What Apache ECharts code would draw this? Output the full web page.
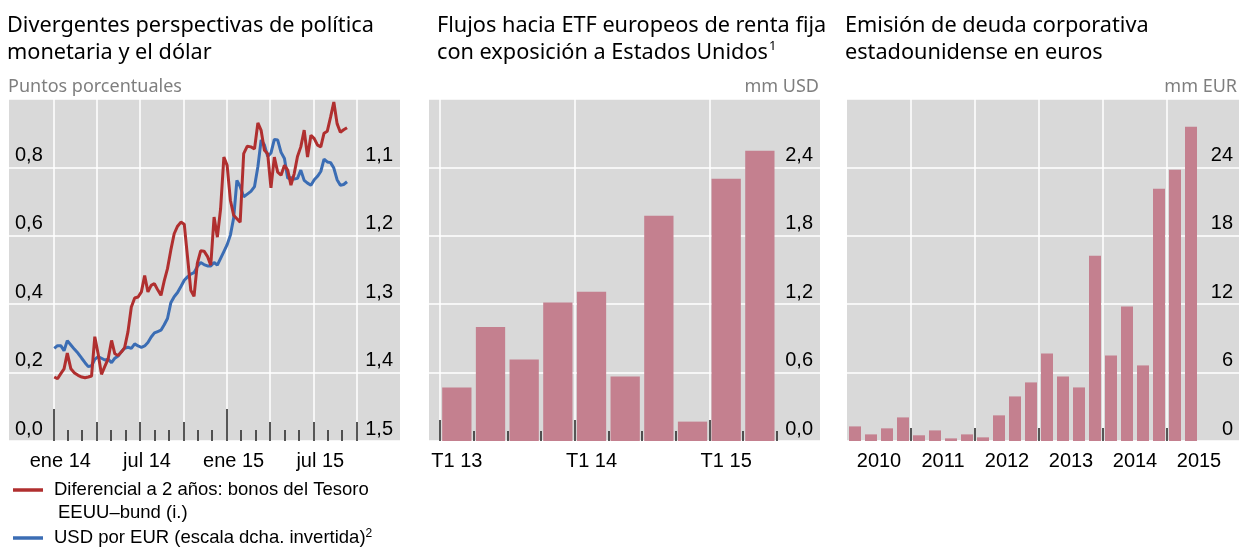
<!DOCTYPE html>
<html><head><meta charset="utf-8">
<script src="https://cdn.jsdelivr.net/npm/echarts@6/dist/echarts.min.js"></script>
<style>html,body{margin:0;padding:0;background:#fff}#c{width:1239px;height:547px}</style>
</head><body><div id="c"></div>
<script>
// ---------- DATA ----------
// Left panel: weekly observations (first Friday of 2014, then weekly)
const weekStart = '2014-01-03';
const spread2y = [0.187,0.182,0.197,0.211,0.257,0.211,0.199,0.192,0.187,0.185,0.187,0.19,0.305,0.255,0.195,0.218,0.241,0.294,0.255,0.25,0.26,0.273,0.319,0.392,0.418,0.421,0.436,0.484,0.436,0.455,0.46,0.442,0.426,0.468,0.504,0.558,0.606,0.628,0.64,0.634,0.538,0.441,0.423,0.519,0.556,0.555,0.54,0.514,0.655,0.596,0.679,0.83,0.806,0.704,0.66,0.65,0.64,0.84,0.862,0.86,0.854,0.93,0.908,0.85,0.84,0.74,0.83,0.786,0.777,0.806,0.792,0.748,0.782,0.832,0.86,0.909,0.83,0.894,0.884,0.865,0.86,0.9,0.906,0.947,0.991,0.928,0.903,0.91,0.916];
const usdPerEur = [1.3645,1.3606,1.3606,1.368,1.3533,1.3596,1.366,1.3718,1.379,1.3855,1.3913,1.39,1.3806,1.3767,1.379,1.3816,1.3806,1.3855,1.379,1.3757,1.3694,1.3645,1.363,1.3645,1.358,1.361,1.363,1.361,1.356,1.348,1.342,1.34,1.338,1.33,1.321,1.298,1.289,1.283,1.274,1.265,1.26,1.256,1.254,1.245,1.239,1.242,1.244,1.244,1.239,1.243,1.233,1.223,1.213,1.199,1.174,1.119,1.128,1.143,1.139,1.135,1.128,1.099,1.06,1.067,1.084,1.079,1.059,1.06,1.078,1.087,1.116,1.115,1.117,1.116,1.104,1.119,1.123,1.126,1.118,1.113,1.106,1.088,1.092,1.093,1.101,1.118,1.126,1.125,1.121];
const leftXLabels = {0: 'ene 14', 6: 'jul 14', 12: 'ene 15', 18: 'jul 15'};

// Middle panel: quarterly flows (mm USD)
const etfQuarters = ['T1 13','T2 13','T3 13','T4 13','T1 14','T2 14','T3 14','T4 14','T1 15','T2 15'];
const etfFlows = [0.47, 1.0, 0.715, 1.215, 1.31, 0.565, 1.975, 0.17, 2.30, 2.545];

// Right panel: quarterly issuance (mm EUR)
const issueQuarters = ['2010','2010 T2','2010 T3','2010 T4','2011','2011 T2','2011 T3','2011 T4','2012','2012 T2','2012 T3','2012 T4','2013','2013 T2','2013 T3','2013 T4','2014','2014 T2','2014 T3','2014 T4','2015','2015 T2'];
const issuance = [1.28, 0.58, 1.11, 2.07, 0.5, 0.93, 0.23, 0.58, 0.32, 2.25, 3.91, 5.14, 7.68, 5.66, 4.7, 16.26, 7.5, 11.8, 6.63, 22.13, 23.8, 27.56];

// ---------- helpers ----------
function weekDates(start, n) {
  const out = []; const d0 = new Date(start + 'T00:00:00Z');
  for (let i = 0; i < n; i++) { out.push(new Date(d0.getTime() + i * 7 * 86400000)); }
  return out;
}
function monthPos(d) { // months since Jan 2014
  const y = d.getUTCFullYear(), m = d.getUTCMonth(), day = d.getUTCDate();
  const dim = new Date(Date.UTC(y, m + 1, 0)).getUTCDate();
  return (y - 2014) * 12 + m + (day - 1) / dim;
}
const dates = weekDates(weekStart, spread2y.length);
const redData = dates.map((d, i) => [monthPos(d), spread2y[i]]);
const blueData = dates.map((d, i) => [monthPos(d), usdPerEur[i]]);

const BG = '#d9d9d9', WHITE = '#ffffff', TICK = '#222';
const LBL = {fontFamily: 'Liberation Sans', fontSize: 20, color: '#000'};
const comma1 = v => v.toFixed(1).replace('.', ',');
const hide = {show: false};
const hiddenX = (g, min, max) => ({type: 'value', gridIndex: g, min: min, max: max, show: false, position: 'bottom'});
const hiddenY = (g, min, max, inv) => ({type: 'value', gridIndex: g, min: min, max: max, inverse: !!inv, show: false});

const TOP = 99, H = 342;
const chart = echarts.init(document.getElementById('c'), null, {renderer: 'canvas'});
const titleStyle = {fontFamily: 'Noto Sans', fontSize: 21.7, fontWeight: 'normal', color: '#000', lineHeight: 27.5};
const subStyle = {fontFamily: 'Noto Sans', fontSize: 18, fontWeight: 'normal', color: '#7f7f7f', lineHeight: 18};

chart.setOption({
  animation: false,
  title: [
    {text: 'Divergentes perspectivas de política\nmonetaria y el dólar', left: 7, top: 12, padding: 0, textStyle: titleStyle},
    {text: '{t|Flujos hacia ETF europeos de renta fija}\n{t|con exposición a Estados Unidos}{s|1}', left: 437, top: 12, padding: 0,
      textStyle: Object.assign({}, titleStyle, {rich: {t: titleStyle, s: {fontFamily: 'Noto Sans', fontSize: 13, verticalAlign: 'top', lineHeight: 27.5, padding: [0, 0, 12, 1]}}})},
    {text: 'Emisión de deuda corporativa\nestadounidense en euros', left: 845, top: 12, padding: 0, textStyle: titleStyle},
    {text: 'Puntos porcentuales', left: 8, top: 78, padding: 0, textStyle: subStyle},
    {text: 'mm USD', right: 1239 - 819, top: 78, padding: 0, textStyle: subStyle},
    {text: 'mm EUR', right: 2, top: 78, padding: 0, textStyle: subStyle}
  ],
  grid: [
    {left: 9, top: TOP, width: 391, height: H, show: true, backgroundColor: BG, borderWidth: 0},          // 0 left bg
    {left: 53.33, top: TOP, width: 303.33, height: H, show: false},                                     // 1 lines
    {left: 53.33, top: TOP, width: 173.33, height: H, show: false},                                     // 2 year ticks
    {left: 429, top: TOP, width: 391, height: H, show: true, backgroundColor: BG, borderWidth: 0},       // 3 mid bg
    {left: 440, top: TOP, width: 336.7, height: H, show: false},                                        // 4 mid bars
    {left: 440, top: TOP, width: 269.36, height: H, show: false},                                       // 5 mid year ticks
    {left: 847, top: TOP, width: 392, height: H, show: true, backgroundColor: BG, borderWidth: 0},       // 6 right bg
    {left: 847, top: TOP, width: 352, height: H, show: false},                                          // 7 right bars
    {left: 911, top: TOP, width: 256, height: H, show: false}                                           // 8 right year ticks
  ],
  xAxis: [
    hiddenX(0, 0, 1),
    {type: 'value', gridIndex: 1, position: 'bottom', min: 0, max: 21, interval: 1, axisLine: hide, splitLine: hide, axisLabel: hide,
      axisTick: {show: true, inside: true, length: 11, lineStyle: {color: TICK, width: 1.5}}},
    {type: 'value', gridIndex: 1, position: 'bottom', min: 0, max: 21, interval: 3, axisLine: hide,
      splitLine: {show: true, lineStyle: {color: WHITE, width: 1.5}},
      axisTick: {show: true, inside: true, length: 19, lineStyle: {color: TICK, width: 1.5}},
      axisLabel: Object.assign({}, LBL, {margin: 10, padding: [0, 0, 0, 14], showMinLabel: true, showMaxLabel: true,
        formatter: v => leftXLabels[v] || ''})},
    {type: 'value', gridIndex: 2, position: 'bottom', min: 0, max: 12, interval: 12, axisLine: hide, splitLine: hide, axisLabel: hide,
      axisTick: {show: true, inside: true, length: 32, lineStyle: {color: TICK, width: 1.5}}},
    hiddenX(3, 0, 1),
    {type: 'category', gridIndex: 4, position: 'bottom', data: etfQuarters, axisLine: hide, splitLine: hide,
      axisTick: {show: true, inside: true, length: 10, interval: 0, lineStyle: {color: TICK, width: 1.5}},
      axisLabel: Object.assign({}, LBL, {margin: 10, interval: 3})},
    {type: 'value', gridIndex: 5, position: 'bottom', min: 0, max: 8, interval: 4, axisLine: hide, axisLabel: hide,
      splitLine: {show: true, lineStyle: {color: WHITE, width: 1.5}},
      axisTick: {show: true, inside: true, length: 21, lineStyle: {color: TICK, width: 1.5}}},
    hiddenX(6, 0, 1),
    {type: 'category', gridIndex: 7, position: 'bottom', data: issueQuarters, axisLine: hide, splitLine: hide, axisTick: hide,
      axisLabel: Object.assign({}, LBL, {margin: 10, interval: 3, padding: [0, 0, 0, 48], formatter: v => v.slice(0, 4)})},
    {type: 'value', gridIndex: 8, position: 'bottom', min: 4, max: 20, interval: 4, axisLine: hide, axisLabel: hide,
      splitLine: {show: true, lineStyle: {color: WHITE, width: 1.5}},
      axisTick: {show: true, inside: true, length: 13, lineStyle: {color: TICK, width: 1.5}}}
  ],
  yAxis: [
    {type: 'value', gridIndex: 0, min: 0, max: 1, interval: 0.2, position: 'left', axisLine: hide, axisTick: hide,
      splitLine: {show: true, lineStyle: {color: WHITE, width: 1.5}},
      axisLabel: Object.assign({}, LBL, {inside: true, margin: 6, verticalAlign: 'bottom', padding: [0, 0, 2, 0], showMaxLabel: false, formatter: comma1})},
    {type: 'value', gridIndex: 0, min: 1.0, max: 1.5, interval: 0.1, inverse: true, position: 'right', axisLine: hide, axisTick: hide, splitLine: hide,
      axisLabel: Object.assign({}, LBL, {inside: true, margin: 7, verticalAlign: 'bottom', padding: [0, 0, 2, 0], showMinLabel: false, formatter: comma1})},
    hiddenY(1, 0, 1),
    hiddenY(1, 1.0, 1.5, true),
    hiddenY(2, 0, 1),
    {type: 'value', gridIndex: 3, min: 0, max: 3, interval: 0.6, position: 'right', axisLine: hide, axisTick: hide,
      splitLine: {show: true, lineStyle: {color: WHITE, width: 1.5}},
      axisLabel: Object.assign({}, LBL, {inside: true, margin: 7, verticalAlign: 'bottom', padding: [0, 0, 2, 0], showMaxLabel: false, formatter: comma1})},
    hiddenY(4, 0, 3),
    hiddenY(5, 0, 3),
    {type: 'value', gridIndex: 6, min: 0, max: 30, interval: 6, position: 'right', axisLine: hide, axisTick: hide,
      splitLine: {show: true, lineStyle: {color: WHITE, width: 1.5}},
      axisLabel: Object.assign({}, LBL, {inside: true, margin: 6, verticalAlign: 'bottom', padding: [0, 0, 2, 0], showMaxLabel: false})},
    hiddenY(7, 0, 30),
    hiddenY(8, 0, 30)
  ],
  series: [
    {type: 'line', name: 'USD por EUR', xAxisIndex: 1, yAxisIndex: 3, data: blueData, showSymbol: false,
      lineStyle: {color: '#3b6db4', width: 3}, itemStyle: {color: '#3b6db4'}, z: 3},
    {type: 'line', name: 'Diferencial', xAxisIndex: 1, yAxisIndex: 2, data: redData, showSymbol: false,
      lineStyle: {color: '#b02f2f', width: 3}, itemStyle: {color: '#b02f2f'}, z: 4},
    {type: 'bar', xAxisIndex: 5, yAxisIndex: 6, data: etfFlows, barCategoryGap: '13%', itemStyle: {color: '#c4808f'}},
    {type: 'bar', xAxisIndex: 8, yAxisIndex: 9, data: issuance, barCategoryGap: '25%', itemStyle: {color: '#c4808f'}}
  ],
  graphic: [
    {type: 'line', shape: {x1: 13, y1: 490, x2: 43, y2: 490}, style: {stroke: '#b02f2f', lineWidth: 3.5}},
    {type: 'text', x: 54, y: 490, style: {text: 'Diferencial a 2 años: bonos del Tesoro', font: '18.5px "Liberation Sans"', fill: '#000', verticalAlign: 'middle'}},
    {type: 'text', x: 58, y: 513, style: {text: 'EEUU–bund (i.)', font: '18.5px "Liberation Sans"', fill: '#000', verticalAlign: 'middle'}},
    {type: 'line', shape: {x1: 13, y1: 538, x2: 43, y2: 538}, style: {stroke: '#3b6db4', lineWidth: 3.5}},
    {type: 'text', x: 54, y: 538, style: {text: '{a|USD por EUR (escala dcha. invertida)}{s|2}', fill: '#000', verticalAlign: 'middle',
      rich: {a: {fontFamily: 'Liberation Sans', fontSize: 18.5, lineHeight: 21}, s: {fontFamily: 'Liberation Sans', fontSize: 12, verticalAlign: 'top', lineHeight: 21, padding: [0, 0, 7, 0]}}}}
  ]
});
</script></body></html>
